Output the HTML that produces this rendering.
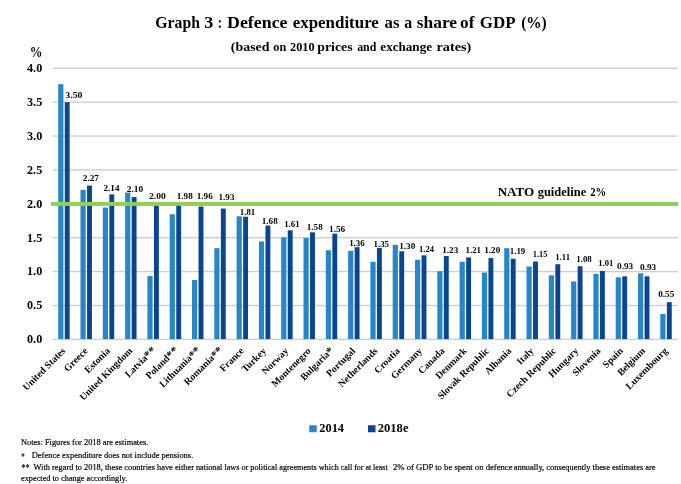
<!DOCTYPE html>
<html lang="en"><head><meta charset="utf-8"><title>Graph 3 : Defence expenditure as a share of GDP (%)</title>
<style>
html,body{margin:0;padding:0;background:#fff;}
body{width:681px;height:484px;overflow:hidden;}
svg{display:block;font-family:"Liberation Serif",serif;}
text{fill:#000;}
.b{font-weight:bold;}
.n{stroke:#000;stroke-width:0.2;}
</style></head><body>
<svg width="681" height="484" viewBox="0 0 681 484">
<rect width="681" height="484" fill="#fff"/>
<rect x="52.8" y="338.70" width="625" height="1.4" fill="#cecece"/>
<rect x="52.8" y="304.81" width="625" height="1.4" fill="#cecece"/>
<rect x="52.8" y="270.92" width="625" height="1.4" fill="#cecece"/>
<rect x="52.8" y="237.03" width="625" height="1.4" fill="#cecece"/>
<rect x="52.8" y="203.14" width="625" height="1.4" fill="#cecece"/>
<rect x="52.8" y="169.25" width="625" height="1.4" fill="#cecece"/>
<rect x="52.8" y="135.36" width="625" height="1.4" fill="#cecece"/>
<rect x="52.8" y="101.47" width="625" height="1.4" fill="#cecece"/>
<rect x="52.8" y="67.58" width="625" height="1.4" fill="#cecece"/>
<rect x="58.20" y="84.17" width="5.2" height="254.88" fill="#2686c8"/>
<rect x="64.75" y="102.17" width="4.9" height="236.88" fill="#09468f"/>
<rect x="80.50" y="189.91" width="5.2" height="149.14" fill="#2686c8"/>
<rect x="87.05" y="185.54" width="4.9" height="153.51" fill="#09468f"/>
<rect x="102.80" y="207.53" width="5.2" height="131.52" fill="#2686c8"/>
<rect x="109.35" y="194.35" width="4.9" height="144.70" fill="#09468f"/>
<rect x="125.10" y="192.62" width="5.2" height="146.43" fill="#2686c8"/>
<rect x="131.65" y="197.06" width="4.9" height="141.99" fill="#09468f"/>
<rect x="147.40" y="275.99" width="5.2" height="63.06" fill="#2686c8"/>
<rect x="153.95" y="203.84" width="4.9" height="135.21" fill="#09468f"/>
<rect x="169.70" y="214.31" width="5.2" height="124.74" fill="#2686c8"/>
<rect x="176.25" y="205.20" width="4.9" height="133.85" fill="#09468f"/>
<rect x="192.00" y="280.05" width="5.2" height="59.00" fill="#2686c8"/>
<rect x="198.55" y="206.55" width="4.9" height="132.50" fill="#09468f"/>
<rect x="214.30" y="248.20" width="5.2" height="90.85" fill="#2686c8"/>
<rect x="220.85" y="208.58" width="4.9" height="130.47" fill="#09468f"/>
<rect x="236.60" y="216.34" width="5.2" height="122.71" fill="#2686c8"/>
<rect x="243.15" y="216.72" width="4.9" height="122.33" fill="#09468f"/>
<rect x="258.90" y="241.42" width="5.2" height="97.63" fill="#2686c8"/>
<rect x="265.45" y="225.53" width="4.9" height="113.52" fill="#09468f"/>
<rect x="281.20" y="237.35" width="5.2" height="101.70" fill="#2686c8"/>
<rect x="287.75" y="230.27" width="4.9" height="108.78" fill="#09468f"/>
<rect x="303.50" y="238.03" width="5.2" height="101.02" fill="#2686c8"/>
<rect x="310.05" y="232.31" width="4.9" height="106.74" fill="#09468f"/>
<rect x="325.80" y="250.23" width="5.2" height="88.82" fill="#2686c8"/>
<rect x="332.35" y="233.66" width="4.9" height="105.39" fill="#09468f"/>
<rect x="348.10" y="250.91" width="5.2" height="88.14" fill="#2686c8"/>
<rect x="354.65" y="247.22" width="4.9" height="91.83" fill="#09468f"/>
<rect x="370.40" y="261.75" width="5.2" height="77.30" fill="#2686c8"/>
<rect x="376.95" y="247.90" width="4.9" height="91.15" fill="#09468f"/>
<rect x="392.70" y="244.81" width="5.2" height="94.24" fill="#2686c8"/>
<rect x="399.25" y="251.29" width="4.9" height="87.76" fill="#09468f"/>
<rect x="415.00" y="259.72" width="5.2" height="79.33" fill="#2686c8"/>
<rect x="421.55" y="255.35" width="4.9" height="83.70" fill="#09468f"/>
<rect x="437.30" y="271.24" width="5.2" height="67.81" fill="#2686c8"/>
<rect x="443.85" y="256.03" width="4.9" height="83.02" fill="#09468f"/>
<rect x="459.60" y="261.75" width="5.2" height="77.30" fill="#2686c8"/>
<rect x="466.15" y="257.39" width="4.9" height="81.66" fill="#09468f"/>
<rect x="481.90" y="272.60" width="5.2" height="66.45" fill="#2686c8"/>
<rect x="488.45" y="258.06" width="4.9" height="80.99" fill="#09468f"/>
<rect x="504.20" y="248.20" width="5.2" height="90.85" fill="#2686c8"/>
<rect x="510.75" y="258.74" width="4.9" height="80.31" fill="#09468f"/>
<rect x="526.50" y="266.50" width="5.2" height="72.55" fill="#2686c8"/>
<rect x="533.05" y="261.45" width="4.9" height="77.60" fill="#09468f"/>
<rect x="548.80" y="275.31" width="5.2" height="63.74" fill="#2686c8"/>
<rect x="555.35" y="264.16" width="4.9" height="74.89" fill="#09468f"/>
<rect x="571.10" y="281.41" width="5.2" height="57.64" fill="#2686c8"/>
<rect x="577.65" y="266.20" width="4.9" height="72.85" fill="#09468f"/>
<rect x="593.40" y="273.95" width="5.2" height="65.10" fill="#2686c8"/>
<rect x="599.95" y="270.94" width="4.9" height="68.11" fill="#09468f"/>
<rect x="615.70" y="277.34" width="5.2" height="61.71" fill="#2686c8"/>
<rect x="622.25" y="276.36" width="4.9" height="62.69" fill="#09468f"/>
<rect x="638.00" y="273.28" width="5.2" height="65.77" fill="#2686c8"/>
<rect x="644.55" y="276.36" width="4.9" height="62.69" fill="#09468f"/>
<rect x="660.30" y="313.94" width="5.2" height="25.11" fill="#2686c8"/>
<rect x="666.85" y="302.12" width="4.9" height="36.93" fill="#09468f"/>
<rect x="51" y="201.9" width="627" height="4" fill="#90cf54"/>
<text class="b" x="27.05" y="343.20" font-size="12.1" textLength="15.20" lengthAdjust="spacingAndGlyphs">0.0</text>
<text class="b" x="27.05" y="309.31" font-size="12.1" textLength="15.20" lengthAdjust="spacingAndGlyphs">0.5</text>
<text class="b" x="27.05" y="275.42" font-size="12.1" textLength="15.20" lengthAdjust="spacingAndGlyphs">1.0</text>
<text class="b" x="27.05" y="241.53" font-size="12.1" textLength="15.20" lengthAdjust="spacingAndGlyphs">1.5</text>
<text class="b" x="27.05" y="207.64" font-size="12.1" textLength="15.20" lengthAdjust="spacingAndGlyphs">2.0</text>
<text class="b" x="27.05" y="173.75" font-size="12.1" textLength="15.20" lengthAdjust="spacingAndGlyphs">2.5</text>
<text class="b" x="27.05" y="139.86" font-size="12.1" textLength="15.20" lengthAdjust="spacingAndGlyphs">3.0</text>
<text class="b" x="27.05" y="105.97" font-size="12.1" textLength="15.20" lengthAdjust="spacingAndGlyphs">3.5</text>
<text class="b" x="27.05" y="72.08" font-size="12.1" textLength="15.20" lengthAdjust="spacingAndGlyphs">4.0</text>
<text class="b" x="29.85" y="57.30" font-size="15.3" textLength="12.70" lengthAdjust="spacingAndGlyphs">%</text>
<text class="b" x="65.35" y="97.80" font-size="9.1" textLength="17.20" lengthAdjust="spacingAndGlyphs">3.50</text>
<text class="b" x="82.75" y="181.00" font-size="9.1" textLength="16.25" lengthAdjust="spacingAndGlyphs">2.27</text>
<text class="b" x="103.50" y="191.00" font-size="9.1" textLength="16.00" lengthAdjust="spacingAndGlyphs">2.14</text>
<text class="b" x="126.75" y="192.00" font-size="9.1" textLength="16.50" lengthAdjust="spacingAndGlyphs">2.10</text>
<text class="b" x="149.00" y="199.00" font-size="9.1" textLength="16.75" lengthAdjust="spacingAndGlyphs">2.00</text>
<text class="b" x="176.75" y="199.00" font-size="9.1" textLength="16.00" lengthAdjust="spacingAndGlyphs">1.98</text>
<text class="b" x="196.75" y="199.00" font-size="9.1" textLength="16.00" lengthAdjust="spacingAndGlyphs">1.96</text>
<text class="b" x="218.50" y="199.70" font-size="9.1" textLength="16.00" lengthAdjust="spacingAndGlyphs">1.93</text>
<text class="b" x="239.75" y="214.70" font-size="9.1" textLength="15.50" lengthAdjust="spacingAndGlyphs">1.81</text>
<text class="b" x="261.75" y="224.00" font-size="9.1" textLength="16.00" lengthAdjust="spacingAndGlyphs">1.68</text>
<text class="b" x="284.25" y="227.00" font-size="9.1" textLength="15.25" lengthAdjust="spacingAndGlyphs">1.61</text>
<text class="b" x="306.75" y="230.20" font-size="9.1" textLength="16.00" lengthAdjust="spacingAndGlyphs">1.58</text>
<text class="b" x="329.00" y="232.00" font-size="9.1" textLength="16.25" lengthAdjust="spacingAndGlyphs">1.56</text>
<text class="b" x="349.15" y="246.00" font-size="9.1" textLength="15.60" lengthAdjust="spacingAndGlyphs">1.36</text>
<text class="b" x="373.55" y="247.20" font-size="9.1" textLength="15.50" lengthAdjust="spacingAndGlyphs">1.35</text>
<text class="b" x="399.25" y="249.00" font-size="9.1" textLength="16.00" lengthAdjust="spacingAndGlyphs">1.30</text>
<text class="b" x="419.05" y="252.20" font-size="9.1" textLength="14.90" lengthAdjust="spacingAndGlyphs">1.24</text>
<text class="b" x="442.25" y="252.70" font-size="9.1" textLength="16.00" lengthAdjust="spacingAndGlyphs">1.23</text>
<text class="b" x="465.50" y="252.70" font-size="9.1" textLength="15.50" lengthAdjust="spacingAndGlyphs">1.21</text>
<text class="b" x="484.25" y="252.70" font-size="9.1" textLength="16.00" lengthAdjust="spacingAndGlyphs">1.20</text>
<text class="b" x="509.75" y="253.80" font-size="9.1" textLength="15.50" lengthAdjust="spacingAndGlyphs">1.19</text>
<text class="b" x="532.75" y="257.20" font-size="9.1" textLength="14.75" lengthAdjust="spacingAndGlyphs">1.15</text>
<text class="b" x="555.25" y="259.70" font-size="9.1" textLength="14.75" lengthAdjust="spacingAndGlyphs">1.11</text>
<text class="b" x="576.25" y="262.20" font-size="9.1" textLength="15.50" lengthAdjust="spacingAndGlyphs">1.08</text>
<text class="b" x="598.25" y="266.00" font-size="9.1" textLength="15.00" lengthAdjust="spacingAndGlyphs">1.01</text>
<text class="b" x="617.00" y="269.00" font-size="9.1" textLength="16.25" lengthAdjust="spacingAndGlyphs">0.93</text>
<text class="b" x="640.00" y="269.70" font-size="9.1" textLength="16.25" lengthAdjust="spacingAndGlyphs">0.93</text>
<text class="b" x="658.25" y="297.00" font-size="9.1" textLength="16.00" lengthAdjust="spacingAndGlyphs">0.55</text>
<text class="b" font-size="9.8" text-anchor="end" transform="translate(66.00,351.50) rotate(-45)">United States</text>
<text class="b" font-size="9.8" text-anchor="end" transform="translate(88.30,351.50) rotate(-45)">Greece</text>
<text class="b" font-size="9.8" text-anchor="end" transform="translate(110.60,351.50) rotate(-45)">Estonia</text>
<text class="b" font-size="9.8" text-anchor="end" transform="translate(132.90,351.50) rotate(-45)">United Kingdom</text>
<text class="b" font-size="9.8" text-anchor="end" transform="translate(156.09,350.61) rotate(-45)">Latvia<tspan font-size="11.6" dy="0.9">**</tspan></text>
<text class="b" font-size="9.8" text-anchor="end" transform="translate(178.39,350.61) rotate(-45)">Poland<tspan font-size="11.6" dy="0.9">**</tspan></text>
<text class="b" font-size="9.8" text-anchor="end" transform="translate(200.69,350.61) rotate(-45)">Lithuania<tspan font-size="11.6" dy="0.9">**</tspan></text>
<text class="b" font-size="9.8" text-anchor="end" transform="translate(222.99,350.61) rotate(-45)">Romania<tspan font-size="11.6" dy="0.9">**</tspan></text>
<text class="b" font-size="9.8" text-anchor="end" transform="translate(244.40,351.50) rotate(-45)">France</text>
<text class="b" font-size="9.8" text-anchor="end" transform="translate(266.70,351.50) rotate(-45)">Turkey</text>
<text class="b" font-size="9.8" text-anchor="end" transform="translate(289.00,351.50) rotate(-45)">Norway</text>
<text class="b" font-size="9.8" text-anchor="end" transform="translate(311.30,351.50) rotate(-45)">Montenegro</text>
<text class="b" font-size="9.8" text-anchor="end" transform="translate(334.05,351.05) rotate(-45)">Bulgaria<tspan font-size="11.6" dy="0.9">*</tspan></text>
<text class="b" font-size="9.8" text-anchor="end" transform="translate(355.90,351.50) rotate(-45)">Portugal</text>
<text class="b" font-size="9.8" text-anchor="end" transform="translate(378.20,351.50) rotate(-45)">Netherlands</text>
<text class="b" font-size="9.8" text-anchor="end" transform="translate(400.50,351.50) rotate(-45)">Croatia</text>
<text class="b" font-size="9.8" text-anchor="end" transform="translate(422.80,351.50) rotate(-45)">Germany</text>
<text class="b" font-size="9.8" text-anchor="end" transform="translate(445.10,351.50) rotate(-45)">Canada</text>
<text class="b" font-size="9.8" text-anchor="end" transform="translate(467.40,351.50) rotate(-45)">Denmark</text>
<text class="b" font-size="9.8" text-anchor="end" transform="translate(489.70,351.50) rotate(-45)">Slovak Republic</text>
<text class="b" font-size="9.8" text-anchor="end" transform="translate(512.00,351.50) rotate(-45)">Albania</text>
<text class="b" font-size="9.8" text-anchor="end" transform="translate(534.30,351.50) rotate(-45)">Italy</text>
<text class="b" font-size="9.8" text-anchor="end" transform="translate(556.60,351.50) rotate(-45)">Czech Republic</text>
<text class="b" font-size="9.8" text-anchor="end" transform="translate(578.90,351.50) rotate(-45)">Hungary</text>
<text class="b" font-size="9.8" text-anchor="end" transform="translate(601.20,351.50) rotate(-45)">Slovenia</text>
<text class="b" font-size="9.8" text-anchor="end" transform="translate(623.50,351.50) rotate(-45)">Spain</text>
<text class="b" font-size="9.8" text-anchor="end" transform="translate(645.80,351.50) rotate(-45)">Belgium</text>
<text class="b" font-size="9.8" text-anchor="end" transform="translate(668.10,351.50) rotate(-45)">Luxembourg</text>
<text class="b" y="27.80" font-size="17.5"><tspan x="155.35" textLength="44.70" lengthAdjust="spacingAndGlyphs">Graph</tspan> <tspan x="204.25" textLength="9.00" lengthAdjust="spacingAndGlyphs">3</tspan> <tspan x="217.75" textLength="4.30" lengthAdjust="spacingAndGlyphs">:</tspan> <tspan x="227.05" textLength="60.50" lengthAdjust="spacingAndGlyphs">Defence</tspan> <tspan x="292.75" textLength="86.10" lengthAdjust="spacingAndGlyphs">expenditure</tspan> <tspan x="384.55" textLength="14.90" lengthAdjust="spacingAndGlyphs">as</tspan> <tspan x="404.35" textLength="7.90" lengthAdjust="spacingAndGlyphs">a</tspan> <tspan x="416.75" textLength="40.30" lengthAdjust="spacingAndGlyphs">share</tspan> <tspan x="460.05" textLength="14.40" lengthAdjust="spacingAndGlyphs">of</tspan> <tspan x="479.75" textLength="34.90" lengthAdjust="spacingAndGlyphs">GDP</tspan> <tspan x="521.15" textLength="25.50" lengthAdjust="spacingAndGlyphs">(%)</tspan></text>
<text class="b" y="50.80" font-size="13.3"><tspan x="230.85" textLength="38.70" lengthAdjust="spacingAndGlyphs">(based</tspan> <tspan x="273.35" textLength="12.90" lengthAdjust="spacingAndGlyphs">on</tspan> <tspan x="290.05" textLength="24.50" lengthAdjust="spacingAndGlyphs">2010</tspan> <tspan x="317.25" textLength="35.40" lengthAdjust="spacingAndGlyphs">prices</tspan> <tspan x="357.15" textLength="19.20" lengthAdjust="spacingAndGlyphs">and</tspan> <tspan x="380.35" textLength="51.70" lengthAdjust="spacingAndGlyphs">exchange</tspan> <tspan x="436.55" textLength="34.70" lengthAdjust="spacingAndGlyphs">rates)</tspan></text>
<text class="b" y="196.00" font-size="12.5"><tspan x="497.65" textLength="36.65" lengthAdjust="spacingAndGlyphs">NATO</tspan> <tspan x="537.65" textLength="48.60" lengthAdjust="spacingAndGlyphs">guideline</tspan> <tspan x="590.15" textLength="16.10" lengthAdjust="spacingAndGlyphs">2%</tspan></text>
<rect x="309.25" y="425.25" width="7.5" height="7" fill="#2686c8"/>
<text class="b" x="319.25" y="432.00" font-size="13.5" textLength="24.75" lengthAdjust="spacingAndGlyphs">2014</text>
<rect x="368" y="425.25" width="7.5" height="7" fill="#09468f"/>
<text class="b" x="377.75" y="432.00" font-size="13.5" textLength="30.75" lengthAdjust="spacingAndGlyphs">2018e</text>
<text class="n" x="21.05" y="445.25" font-size="9" textLength="127.20" lengthAdjust="spacingAndGlyphs">Notes: Figures for 2018 are estimates.</text>
<text class="b" x="21.35" y="459.60" font-size="10" textLength="3.50" lengthAdjust="spacingAndGlyphs">*</text>
<text class="n" x="31.75" y="457.75" font-size="9" textLength="161.50" lengthAdjust="spacingAndGlyphs">Defence expenditure does not include pensions.</text>
<text class="b" x="21.35" y="471.30" font-size="10" textLength="8.50" lengthAdjust="spacingAndGlyphs">**</text>
<text class="n" y="469.50" font-size="9"><tspan x="33.50" textLength="160.45" lengthAdjust="spacingAndGlyphs">With regard to 2018, these countries have either</tspan> <tspan x="195.95" textLength="142.80" lengthAdjust="spacingAndGlyphs">national laws or political agreements which</tspan> <tspan x="340.75" textLength="46.90" lengthAdjust="spacingAndGlyphs">call for at least</tspan> <tspan x="392.95" textLength="119.60" lengthAdjust="spacingAndGlyphs">2% of GDP to be spent on defence</tspan> <tspan x="513.75" textLength="141.75" lengthAdjust="spacingAndGlyphs">annually, consequently these estimates are</tspan></text>
<text class="n" x="21.05" y="481.10" font-size="9" textLength="106.20" lengthAdjust="spacingAndGlyphs">expected to change accordingly.</text>
</svg></body></html>
